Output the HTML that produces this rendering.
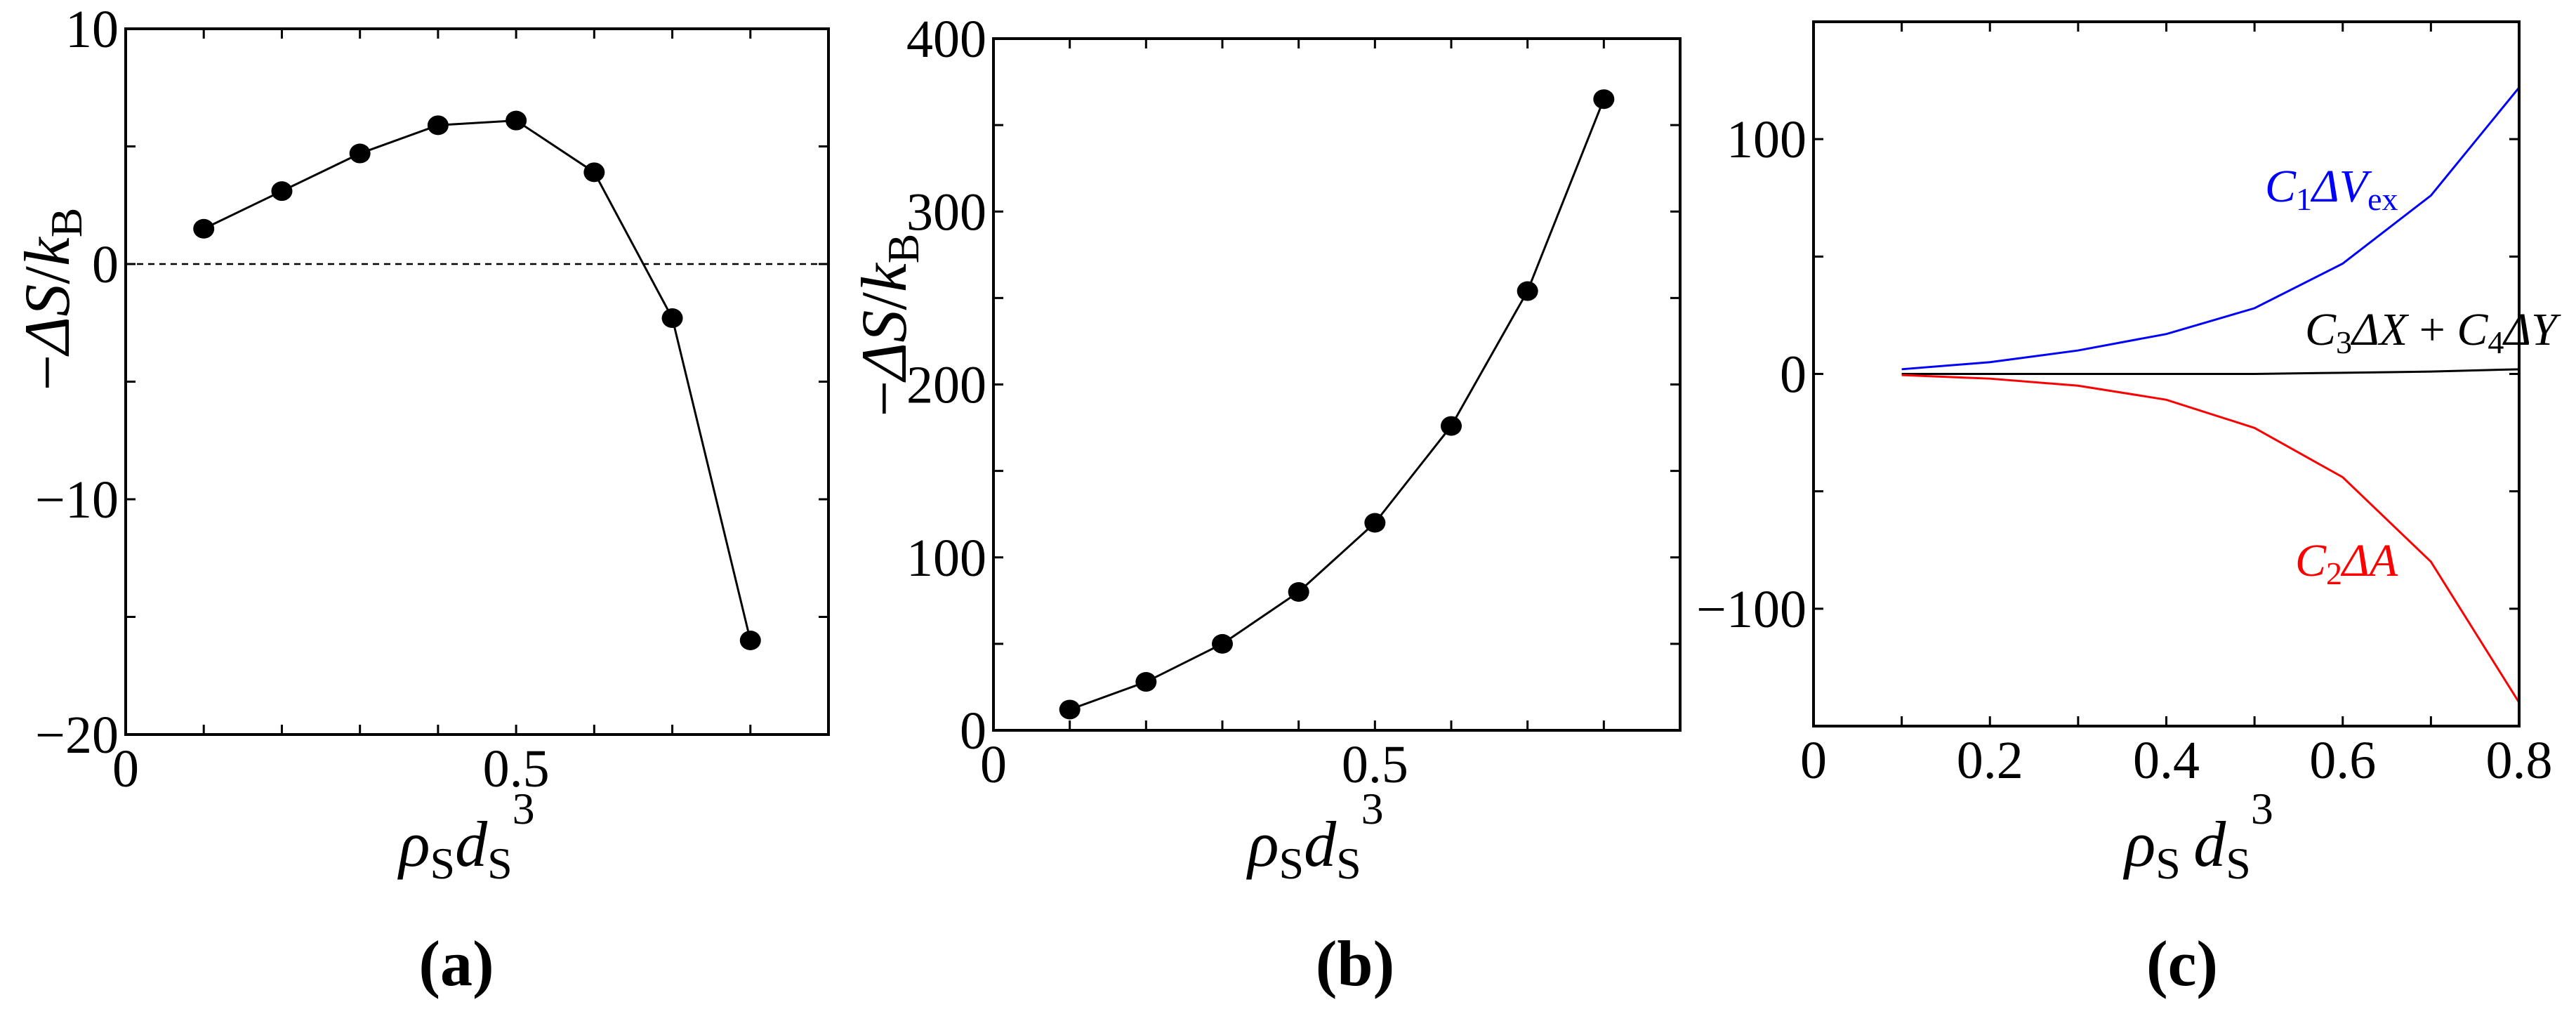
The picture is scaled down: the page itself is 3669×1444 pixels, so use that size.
<!DOCTYPE html>
<html><head><meta charset="utf-8"><style>
html,body{margin:0;padding:0;background:#fff;}
svg{display:block;font-family:"Liberation Serif",serif;}
</style></head><body>
<svg id="fig" width="3669" height="1444" viewBox="0 0 3669 1444" xmlns="http://www.w3.org/2000/svg"></svg>
<script>
const xVals=[0.1,0.2,0.3,0.4,0.5,0.6,0.7,0.8];
const entropyA=[1.5,3.1,4.7,5.9,6.1,3.9,-2.3,-16];
const entropyB=[12,28,50,80,120,176,254,365];
const seriesVex=[2,5,10,17,28,47,76,122];
const seriesA=[-0.5,-2,-5,-11,-23,-44,-80,-140];
const seriesXY=[0,0,0,0,0,0.5,1,2];
const ticksA_y=[-20,-10,0,10];
const ticksB_y=[0,100,200,300,400];
const ticksC_y=[-100,0,100];
const ticksAB_x=[0,0.5];
const ticksC_x=[0,0.2,0.4,0.6,0.8];

const NS="http://www.w3.org/2000/svg";
const svg=document.getElementById('fig');
function el(tag,attrs,parent){const e=document.createElementNS(NS,tag);for(const k in attrs)e.setAttribute(k,attrs[k]);(parent||svg).appendChild(e);return e;}

function panel(cfg){
  const g=el('g',{});
  
  
  const X=v=>cfg.L+(v-cfg.x0)/(cfg.x1-cfg.x0)*(cfg.R-cfg.L);
  const Y=v=>cfg.B-(v-cfg.y0)/(cfg.y1-cfg.y0)*(cfg.B-cfg.T);
  // ticks
  for(let v=cfg.x0+cfg.xminor;v<cfg.x1-1e-9;v+=cfg.xminor){
    const t=el('path',{d:`M${X(v)},${cfg.B}v-14M${X(v)},${cfg.T}v14`,stroke:'#000','stroke-width':3},g);
    
    
  }
  for(let v=cfg.y0+cfg.yminor;v<cfg.y1-1e-9;v+=cfg.yminor){
    const t=el('path',{d:`M${cfg.L},${Y(v)}h14M${cfg.R},${Y(v)}h-14`,stroke:'#000','stroke-width':3},g);
    
    
  }
  cfg.xt.forEach(v=>{const t=el('text',{x:X(v),y:cfg.B+74,'font-size':76,'text-anchor':'middle'},g);t.textContent=String(v);
    
    });
  cfg.yt.forEach(v=>{const t=el('text',{x:cfg.L-10,y:Y(v)+26,'font-size':76,'text-anchor':'end'},g);t.textContent=(v<0?'\u2212'+(-v):String(v));
    
    });
  if(cfg.zero){const z=el('line',{x1:cfg.L,x2:cfg.R,y1:Y(0),y2:Y(0),stroke:'#000','stroke-width':2.5,'stroke-dasharray':'9,7'},g);
    
    }
  cfg.series.forEach(s=>{
    const p=el('polyline',{points:xVals.map((x,i)=>X(x)+','+Y(s.v[i])).join(' '),fill:'none',stroke:s.c,'stroke-width':3},g);
    
    
    if(s.dots){xVals.forEach((x,i)=>{const c=el('ellipse',{cx:X(x),cy:Y(s.v[i]),rx:15,ry:14,fill:'#000'},g);
      
      });}
  });
  const f=el('rect',{x:cfg.L,y:cfg.T,width:cfg.R-cfg.L,height:cfg.B-cfg.T,fill:'none',stroke:'#000','stroke-width':4},g);
  
  
  // x title
  const xt=el('text',{x:cfg.xtX,y:1233,'font-size':92,'font-style':'italic','text-anchor':'middle'},g);
  xt.innerHTML='ρ<tspan font-style="normal" font-size="64" dy="18">S</tspan><tspan dy="-18">'+(cfg.sp?'\u2009':'')+'d</tspan><tspan font-style="normal" font-size="64" dy="18">S</tspan><tspan font-style="normal" font-size="64" dy="-78">3</tspan>';
  
  
  if(cfg.ytX){const yt=el('text',{x:0,y:0,'font-size':92,'text-anchor':'middle',transform:`translate(${cfg.ytX},${cfg.ytY}) rotate(-90)`},g);
    yt.innerHTML='−<tspan font-style="italic">ΔS</tspan>/<tspan font-style="italic">k</tspan><tspan font-size="64" dy="18">B</tspan>';
    
    }
  const pl=el('text',{x:cfg.plX,y:1403,'font-size':92,'font-weight':'bold','text-anchor':'middle'},g);
  pl.textContent=cfg.label;
  
  
  return {X,Y,g};
}

panel({name:'panel-a',L:179,R:1180,T:41,B:1046,x0:0,x1:0.9,y0:-20,y1:10,xminor:0.1,yminor:5,xt:ticksAB_x,yt:ticksA_y,zero:true,
  series:[{name:'entropy-line-a',v:entropyA,c:'#000',dots:true}],xtX:665,ytX:98,ytY:426,plX:650,label:'(a)'});
panel({name:'panel-b',L:1415,R:2393,T:55,B:1040,x0:0,x1:0.9,y0:0,y1:400,xminor:0.1,yminor:50,xt:ticksAB_x,yt:ticksB_y,
  series:[{name:'entropy-line-b',v:entropyB,c:'#000',dots:true}],xtX:1874,ytX:1290,ytY:463,plX:1930,label:'(b)'});
const pc=panel({name:'panel-c',L:2583,R:3588,T:31,B:1034,x0:0,x1:0.8,y0:-150,y1:150,xminor:0.1,yminor:50,xt:ticksC_x,yt:ticksC_y,
  series:[{name:'c1-dvex-line',v:seriesVex,c:'#0000ff'},{name:'c3dx-c4dy-line',v:seriesXY,c:'#000'},{name:'c2-da-line',v:seriesA,c:'#ff0000'}],
  xtX:3132,sp:true,plX:3108,label:'(c)'});
function ann(x,y,html,col,name){const t=el('text',{x:x,y:y,'font-size':66,'font-style':'italic',fill:col},pc.g);t.innerHTML=html;
  
  }
ann(3226,287,'C<tspan font-style="normal" font-size="46" dy="12">1</tspan><tspan dy="-12">ΔV</tspan><tspan font-style="normal" font-size="46" dy="12">ex</tspan>','#0000ff','label-c1-dvex');
ann(3283,491,'C<tspan font-style="normal" font-size="46" dy="12">3</tspan><tspan dy="-12">ΔX</tspan><tspan font-style="normal"> + </tspan>C<tspan font-style="normal" font-size="46" dy="12">4</tspan><tspan dy="-12">ΔY</tspan>','#000','label-c3dx-c4dy');
ann(3269,820,'C<tspan font-style="normal" font-size="46" dy="12">2</tspan><tspan dy="-12">ΔA</tspan>','#ff0000','label-c2-da');
</script>
</body></html>
